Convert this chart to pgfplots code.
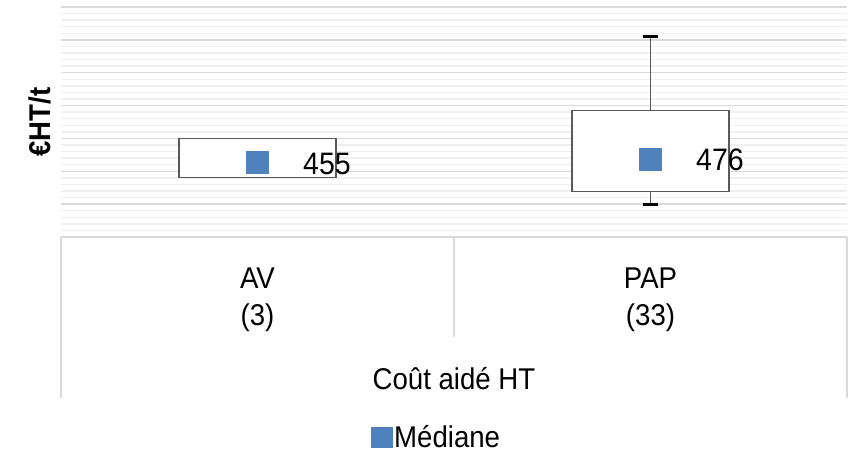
\documentclass[border=0pt]{standalone}
\usepackage{fontspec}
\setmainfont{Liberation Sans}[FakeStretch=0.92]
\usepackage{pgfplots}
\pgfplotsset{compat=1.18}
\definecolor{gridmaj}{HTML}{D9D9D9}
\definecolor{gridmin}{HTML}{F0F0F0}
\definecolor{boxgray}{HTML}{595959}
\definecolor{medblue}{HTML}{4F81BD}
\newcommand\lbl{\fontsize{30bp}{37bp}\selectfont}
\newcommand\dlbl{\fontsize{31bp}{37bp}\selectfont}
\begin{document}
\begin{tikzpicture}
\useasboundingbox (-61bp,-215bp) rectangle (795bp,237bp);
\begin{axis}[
  at={(0,0)}, anchor=south west,
  scale only axis, width=786bp, height=230bp,
  xmin=-0.5, xmax=1.5, ymin=0, ymax=1400,
  xtick={0,1}, xticklabels={AV\\(3), PAP\\(33)},
  xticklabel style={align=center, font=\lbl, anchor=north, inner sep=0pt, yshift=-31bp},
  ytick={0,200,...,1400}, yticklabels={},
  minor y tick num=4,
  major tick length=0pt, minor tick length=0pt,
  ymajorgrids, yminorgrids,
  major grid style={draw=gridmaj, line width=1.3bp},
  minor grid style={draw=gridmin, line width=1.3bp},
  axis line style={draw=none},
  clip=false,
  xlabel={Coût aidé HT},
  xlabel style={at={(axis description cs:0.5,-0.6609)}, anchor=base, font=\lbl, inner sep=0pt},
  ylabel={€HT/t},
  ylabel style={at={(axis description cs:-0.0267,0.5)}, anchor=center, font=\lbl\bfseries, inner sep=0pt},
  legend style={draw=none, fill=none, at={(axis description cs:0.4777,-0.8696)}, anchor=center, font=\lbl, inner sep=0pt},
  /pgf/number format/assume math mode=true,
]
% boxes (Q1-Q3)
\addplot[forget plot, draw=boxgray, fill=white, line width=1.3bp]
  coordinates {(-0.2,361) (0.2,361) (0.2,601) (-0.2,601)} -- cycle;
\addplot[forget plot, draw=boxgray, fill=white, line width=1.3bp]
  coordinates {(0.8,276) (1.2,276) (1.2,771) (0.8,771)} -- cycle;
% whiskers
\addplot[forget plot, draw=boxgray, line width=1.3bp] coordinates {(1,771) (1,1222)};
\addplot[forget plot, draw=boxgray, line width=1.3bp] coordinates {(1,276) (1,197)};
\addplot[forget plot, draw=black, line width=3bp] coordinates {(0.981,1222) (1.019,1222)};
\addplot[forget plot, draw=black, line width=3bp] coordinates {(0.981,197) (1.019,197)};
% medians
\addplot[only marks, mark=square*, mark size=11bp, color=medblue,
  nodes near coords,
  every node near coord/.append style={anchor=west, inner sep=0pt, xshift=45.5bp, yshift=-1.5bp, font=\dlbl, text=black},
  legend image code/.code={\fill[medblue] (-4bp,-10bp) rectangle (17bp,10bp);}]
  coordinates {(0,455) (1,476)};
\addlegendentry{Médiane}
% category table lines
\draw[gridmaj, line width=1.3bp] (axis cs:-0.5,0) -- ([yshift=-161bp]axis cs:-0.5,0);
\draw[gridmaj, line width=1.3bp] (axis cs:1.5,0) -- ([yshift=-161bp]axis cs:1.5,0);
\draw[gridmaj, line width=1.3bp] (axis cs:0.5,0) -- ([yshift=-100bp]axis cs:0.5,0);
\end{axis}
\end{tikzpicture}
\end{document}
